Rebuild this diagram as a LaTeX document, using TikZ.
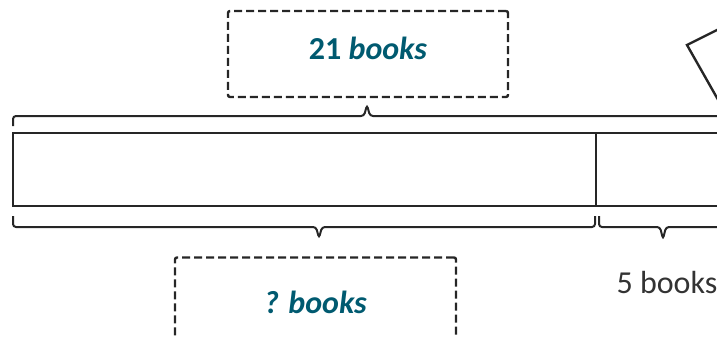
\documentclass[tikz,border=0pt]{standalone}
\usepackage{fontspec}
\setmainfont{Carlito}
\usetikzlibrary{calc}
\definecolor{tealtext}{RGB}{0,90,112}
\definecolor{darktext}{RGB}{51,51,51}

\begin{document}
\begin{tikzpicture}[x=0.5pt, y=-0.5pt,
  answer/.style={draw=black!85, line width=1.2pt, dash pattern=on 4pt off 2pt, rounded corners=1pt, minimum width=140pt, minimum height=43pt, inner sep=0pt, text height=11pt, text depth=6pt, font=\fontsize{16}{19}\selectfont\bfseries, text=tealtext},
  barpart/.style={draw=black!85, line width=1.3pt, inner sep=0pt, outer sep=0pt, minimum height=36.5pt},
  bracket/.style={draw=black!85, line width=1pt, rounded corners=1.5pt},
  given/.style={font=\fontsize{16}{19}\selectfont, text=darktext}
]
  \clip (0,0) rectangle (717,337);

  \node[answer] (total) at (368,54) {21 \textit{books}};
  \node[answer, minimum width=140.5pt, minimum height=51pt] (unknown) at (315.5,308.5) {\textit{? books}};

  \node[barpart, minimum width=291.5pt] (first) at (304.5,169.5) {};
  \node[barpart, minimum width=100pt, anchor=west] (second) at (first.east) {};

  \coordinate (topL) at ($(first.north west)+(0,-7)$);
  \coordinate (topR) at (721,126);
  \coordinate (topTip) at (367,105);
  \coordinate (botL) at ($(first.south west)+(0,10)$);
  \coordinate (botM) at ($(first.south east)+(-1,10)$);
  \coordinate (botTip) at (319,238);
  \coordinate (botN) at ($(second.south west)+(3,10)$);
  \coordinate (botR) at (728,216);
  \coordinate (restTip) at (663,239);

  \draw[bracket] (topL) |- ($(topTip)+(-3,11)$) -- (topTip) -- ($(topTip)+(3,11)$) -| (topR);
  \draw[bracket] (botL) |- ($(botTip)+(-3,-11)$) -- (botTip) -- ($(botTip)+(3,-11)$) -| (botM);
  \draw[bracket] (botN) |- ($(restTip)+(-3,-12)$) -- (restTip) -- ($(restTip)+(3,-12)$) -| (botR);

  \node[given, anchor=base] (rest) at (667,293) {5 books};

  \draw[black!85, line width=1.2pt] (735,21) -- (687,45) -- (725,112);
\end{tikzpicture}
\end{document}
